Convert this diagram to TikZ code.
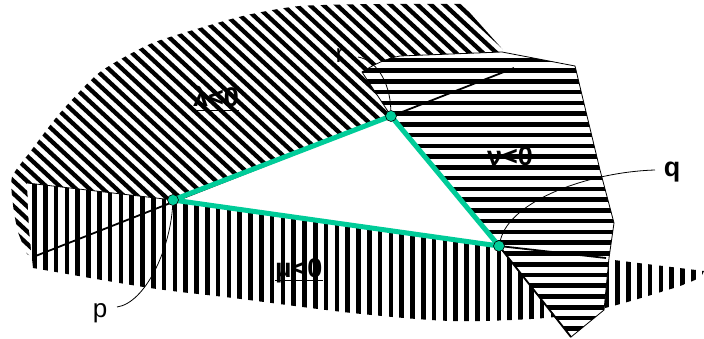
\documentclass[tikz,border=0pt]{standalone}
\usepackage{fontspec}
\setmainfont{Liberation Sans}
\definecolor{trigreen}{RGB}{0,204,153}
\newcommand\mydiagpath{(514,68) -- (505,52) -- (462,4) -- plot[smooth,tension=0.4] coordinates {(462,4) (380,4) (300,6) (247,15) (200,28) (150,44) (100,72) (60,113) (30,152) (12,177) (13,205) (18,232) (27,254)} -- (33,257) -- cycle}
\newcommand\myvertpath{(27,183) -- (173,200) -- (499,246) -- (704,271) -- plot[smooth,tension=0.5] coordinates {(701,277) (677,287) (605,308) (545,318) (452,321) (352,313) (233,298) (150,288) (33,268)} -- (29,230) -- cycle}
\newcommand\myhorzpath{(362,72) .. controls (375,64) and (385,59) .. (400,56) -- (502,52) -- (575,66) -- (600,170) -- (614,223) -- (609,258) -- (604,310) -- (571,337) -- (499,246) -- (391,116) -- cycle}
\begin{document}
\begin{tikzpicture}[x=1pt,y=-1pt,
  diagstripe/.style={line width=4.3pt},
  vstripe/.style={line width=4.5pt},
  hstripe/.style={line width=4.6pt},
  thinline/.style={line width=0.8pt},
  edgeline/.style={line width=1.8pt},
  tri/.style={line width=5pt, draw=trigreen, line join=round},
  vdot/.style={circle, fill=trigreen, draw=black, line width=0.6pt, inner sep=0pt, minimum size=11pt},
  lbl/.style={font=\fontsize{27}{30}\selectfont\bfseries, inner sep=0pt},
  ptlbl/.style={font=\fontsize{26}{30}\selectfont, inner sep=0pt}]
\useasboundingbox (0,0) rectangle (704,339);

% lambda < 0 region (diagonal stripes)
\fill[white] \mydiagpath;
\begin{scope}
  \clip \mydiagpath;
  \foreach \k in {0,...,66} \draw[diagstripe] ({-330+13.5*\k},0) -- ++(420,390);
\end{scope}

% mu < 0 region (vertical stripes)
\fill[white] \myvertpath;
\begin{scope}
  \clip \myvertpath;
  \foreach \k in {-23,...,41} \draw[vstripe] ({261.3+10.8*\k},160) -- ++(0,180);
\end{scope}
\draw[thinline] (27,183) -- (173,200);

% nu < 0 region (horizontal stripes)
\fill[white] \myhorzpath;
\begin{scope}
  \clip \myhorzpath;
  \foreach \k in {-2,...,25} \draw[hstripe] (350,{70.7+10.75*\k}) -- ++(270,0);
\end{scope}
\draw[thinline] \myhorzpath;

% vertices and extension lines
\coordinate (p) at (173,200);
\coordinate (r) at (391,116);
\coordinate (q) at (499,246);
\coordinate (l1a) at (33,257);
\coordinate (l1b) at (514,68);
\coordinate (l2b) at (606,258);
\coordinate (l3b) at (571,337);
\draw[edgeline] (l1a) -- (l1b);
\draw[edgeline] (q) -- (l2b);
\draw[edgeline] (q) -- (l3b);

% triangle
\draw[tri] (p) -- (r) -- (q) -- cycle;
\node[vdot] (pdot) at (p) {};
\node[vdot] (rdot) at (r) {};
\node[vdot] (qdot) at (q) {};

% point labels and leaders
\node[ptlbl, anchor=base] (plbl) at (100,317) {p};
\node[lbl, anchor=base] (qlbl) at (672,177) {q};
\node[ptlbl, anchor=base] (rlbl) at (340,63) {r};
\coordinate (pl) at (117,307);
\coordinate (ql) at (655,170);
\coordinate (rl) at (358,57);
\draw[thinline] (pl) .. controls (145,303) and (170,250) .. (pdot);
\draw[thinline] (ql) .. controls (590,172) and (510,200) .. (qdot);
\draw[thinline] (rl) .. controls (375,60) and (390,80) .. (rdot);

% region labels
\node[lbl, anchor=base west] (lam) at (193,107) {λ<0};
\draw[edgeline] ([shift={(0,3.5)}]lam.base west) -- ([shift={(0,3.5)}]lam.base east);
\node[lbl, anchor=base west] (nu) at (487,166) {ν<0};
\node[lbl, anchor=base west] (mu) at (275,277) {μ<0};
\draw[edgeline] ([shift={(0,3.5)}]mu.base west) -- ([shift={(0,3.5)}]mu.base east);
\end{tikzpicture}
\end{document}
